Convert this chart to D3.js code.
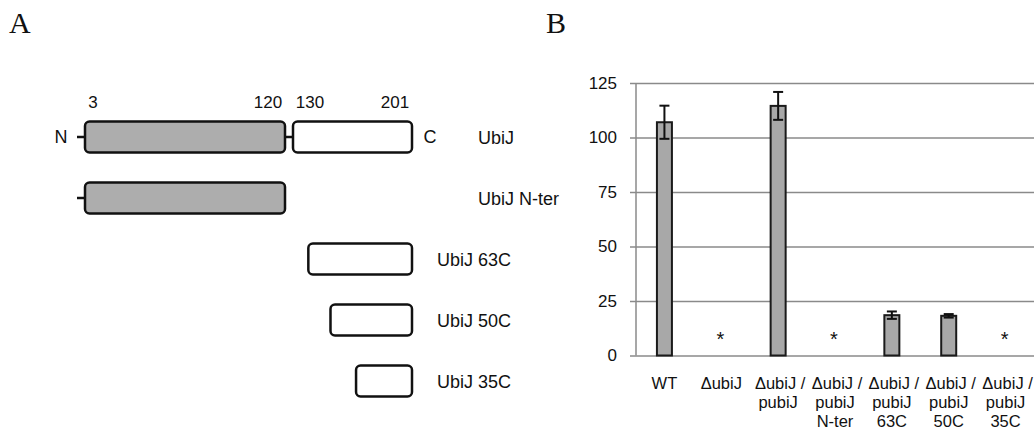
<!DOCTYPE html>
<html>
<head>
<meta charset="utf-8">
<script src="https://cdn.jsdelivr.net/npm/d3@7"></script>
<style>
  html, body { margin: 0; padding: 0; background: #fff; }
  svg { display: block; }
  text { font-family: "Liberation Sans", Arial, sans-serif; fill: #111; }
  text.panel { font-family: "Liberation Serif", "Times New Roman", serif; }
</style>
</head>
<body>
<svg id="chart" width="1035" height="430"></svg>
<script>
// ---------- Panel A data ----------
const constructNames = ["UbiJ", "UbiJ N-ter", "UbiJ 63C", "UbiJ 50C", "UbiJ 35C"];
const constructStarts = [3, 3, 139, 152, 167];
const constructEnds = [201, 120, 201, 201, 201];
const domainBreaks = [3, 120, 130, 201];           // gray N-domain 3-120, white C-domain 130-201
const residueMarks = ["3", "120", "130", "201"];

// ---------- Panel B data ----------
const strains = ["WT", "ΔubiJ", "ΔubiJ / pubiJ", "ΔubiJ / pubiJ N-ter", "ΔubiJ / pubiJ 63C", "ΔubiJ / pubiJ 50C", "ΔubiJ / pubiJ 35C"];
const strainLines = [["WT"], ["ΔubiJ"], ["ΔubiJ /", "pubiJ"], ["ΔubiJ /", "pubiJ", "N-ter"], ["ΔubiJ /", "pubiJ", "63C"], ["ΔubiJ /", "pubiJ", "50C"], ["ΔubiJ /", "pubiJ", "35C"]];
const values = [107, 0, 114.5, 0, 18.5, 18.2, 0];
const errors = [7.6, 0, 6.4, 0, 1.7, 0.8, 0];
const notDetected = [false, true, false, true, false, false, true];
const yTicks = [0, 25, 50, 75, 100, 125];

const svg = d3.select("#chart");

// ================= Panel A =================
svg.append("text").attr("class", "panel").attr("x", 9).attr("y", 33)
  .attr("font-size", 30).text("A");

const gA = svg.append("g");
// piecewise residue scale (schematic: linker 120-130 drawn compressed)
const xr = d3.scaleLinear().domain([1, 3, 120, 130, 201]).range([77, 84, 286, 292, 413]);
const rowY = d3.scalePoint().domain(constructNames).range([137, 381]);
const boxH = 31;
const gray = "#adadad";

// residue numbers
gA.selectAll("text.res").data(domainBreaks).join("text")
  .attr("class", "res")
  .attr("x", (d, i) => i === 0 ? xr(d) + 9 : (i === 2 ? xr(d) + 18 : xr(d) - 18))
  .attr("y", 108).attr("font-size", 17).attr("text-anchor", "middle")
  .text((d, i) => residueMarks[i]);

constructNames.forEach((name, i) => {
  const yy = rowY(name);
  const s = constructStarts[i], e = constructEnds[i];
  const g = gA.append("g");
  const segs = [];
  if (s <= domainBreaks[0]) {
    g.append("line").attr("x1", xr(1)).attr("x2", xr(3)).attr("y1", yy).attr("y2", yy)
      .attr("stroke", "#111").attr("stroke-width", 2.5);
    segs.push({a: domainBreaks[0], b: Math.min(e, domainBreaks[1]), fill: gray});
  }
  if (e > domainBreaks[1]) {
    const cs = Math.max(s, domainBreaks[2]);
    if (s <= domainBreaks[1]) {
      g.append("line").attr("x1", xr(120)).attr("x2", xr(130)).attr("y1", yy).attr("y2", yy)
        .attr("stroke", "#111").attr("stroke-width", 2.5);
    }
    segs.push({a: cs, b: e, fill: "#fff"});
  }
  g.selectAll("rect").data(segs).join("rect")
    .attr("x", d => xr(d.a) + 1).attr("width", d => xr(d.b) - xr(d.a) - 2)
    .attr("y", yy - boxH / 2).attr("height", boxH)
    .attr("rx", 4.5).attr("ry", 4.5)
    .attr("fill", d => d.fill).attr("stroke", "#111").attr("stroke-width", 2.5);
  if (i === 0) {
    g.append("text").attr("x", 61).attr("y", yy + 6).attr("font-size", 18).attr("text-anchor", "middle").text("N");
    g.append("text").attr("x", 430).attr("y", yy + 6).attr("font-size", 18).attr("text-anchor", "middle").text("C");
  }
  g.append("text").attr("x", i < 2 ? 478 : 437).attr("y", yy + 6.5)
    .attr("font-size", 18).text(name);
});

// ================= Panel B =================
svg.append("text").attr("class", "panel").attr("x", 546).attr("y", 33)
  .attr("font-size", 30).text("B");

const pLeft = 636, pRight = 1034, pTop = 83, pBottom = 355.5;
const x = d3.scaleBand().domain(strains).range([pLeft, pRight]).paddingInner(0).paddingOuter(0);
const y = d3.scaleLinear().domain([0, 125]).range([pBottom, pTop]);
const gB = svg.append("g");
const gridColor = "#8a8a8a";

gB.append("g").attr("transform", `translate(${pLeft},0)`)
  .call(d3.axisLeft(y).tickValues(yTicks).tickSize(-(pRight - pLeft)).tickSizeOuter(0).tickPadding(19))
  .call(g => g.select(".domain").remove())
  .call(g => g.selectAll(".tick line").attr("x1", -6).attr("stroke", gridColor).attr("stroke-width", 1.5))
  .call(g => g.selectAll(".tick text").attr("font-size", 17).attr("fill", "#111")
    .attr("font-family", "'Liberation Sans', Arial, sans-serif"));
gB.append("line").attr("x1", pLeft).attr("x2", pLeft).attr("y1", pTop).attr("y2", pBottom)
  .attr("stroke", gridColor).attr("stroke-width", 1.5);

const barW = 15;
const data = strains.map((s, i) => ({s, v: values[i], e: errors[i], nd: notDetected[i], lines: strainLines[i]}));

gB.selectAll("rect.bar").data(data.filter(d => !d.nd)).join("rect")
  .attr("class", "bar")
  .attr("x", d => x(d.s) + x.bandwidth() / 2 - barW / 2).attr("width", barW)
  .attr("y", d => y(d.v)).attr("height", d => y(0) - y(d.v))
  .attr("fill", "#a8a8a8").attr("stroke", "#1a1a1a").attr("stroke-width", 2);

const eb = gB.selectAll("g.err").data(data.filter(d => d.e > 0)).join("g").attr("class", "err")
  .attr("transform", d => `translate(${x(d.s) + x.bandwidth() / 2},0)`);
eb.append("line").attr("y1", d => y(d.v - d.e)).attr("y2", d => y(d.v + d.e)).attr("stroke", "#111").attr("stroke-width", 2);
eb.append("line").attr("x1", -5).attr("x2", 5).attr("y1", d => y(d.v + d.e)).attr("y2", d => y(d.v + d.e)).attr("stroke", "#111").attr("stroke-width", 2);
eb.append("line").attr("x1", -5).attr("x2", 5).attr("y1", d => y(d.v - d.e)).attr("y2", d => y(d.v - d.e)).attr("stroke", "#111").attr("stroke-width", 2);

gB.selectAll("text.star").data(data.filter(d => d.nd)).join("text")
  .attr("class", "star")
  .attr("x", d => x(d.s) + x.bandwidth() / 2 - 1).attr("y", y(4.5))
  .attr("text-anchor", "middle").attr("font-size", 20).text("*");

const lab = gB.selectAll("text.cat").data(data).join("text")
  .attr("class", "cat").attr("text-anchor", "middle").attr("font-size", 16.5)
  .attr("transform", d => `translate(${x(d.s) + x.bandwidth() / 2 + (d.lines.length > 1 ? 2 : 0)},389)`);
lab.selectAll("tspan").data(d => d.lines.map((l, j) => ({l, j}))).join("tspan")
  .attr("x", d => d.j === 0 ? 0 : -2).attr("dy", d => d.j === 0 ? 0 : 19).text(d => d.l);
</script>
</body>
</html>
